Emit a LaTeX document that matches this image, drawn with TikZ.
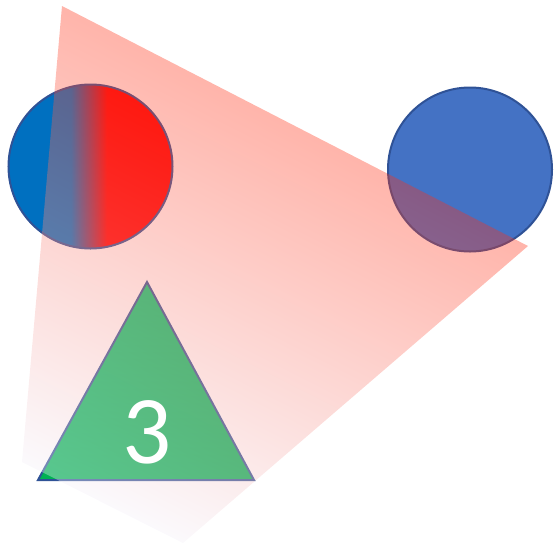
\documentclass[tikz,border=0pt]{standalone}
\usepackage{fontspec}
\newfontfamily\digitfont{Carlito}
\definecolor{blueA}{RGB}{0,112,192}
\definecolor{redA}{RGB}{255,0,0}
\definecolor{circB}{RGB}{68,114,196}
\definecolor{shapeline}{RGB}{47,82,150}
\definecolor{triTop}{RGB}{0,203,115}
\definecolor{triBot}{RGB}{0,176,82}
\definecolor{polyTop}{RGB}{255,47,19}
\definecolor{polyBot}{RGB}{243,243,252}
\pgfdeclarehorizontalshading{bluered}{100bp}{color(0bp)=(blueA); color(44bp)=(blueA); color(55bp)=(redA); color(100bp)=(redA)}
\tikzset{
  outline/.style={line width=2pt, draw=shapeline},
  overlay poly/.style={top color=polyTop, bottom color=polyBot, opacity=0.36},
}
\begin{document}
\begin{tikzpicture}[x=1pt,y=-1pt]
\useasboundingbox (0,0) rectangle (554,547);
% left circle
\node[circle, minimum size=164pt, inner sep=0pt, shading=bluered, outline] (lc) at (90.5,166.5) {};
% right circle
\node[circle, minimum size=164pt, inner sep=0pt, fill=circB, outline] (rc) at (470,169.5) {};
% triangle
\coordinate (ta) at (147,282);
\coordinate (tl) at (38,480);
\coordinate (tr) at (254,480);
\shadedraw[top color=triTop, bottom color=triBot, outline, line join=miter] (ta) -- (tr) -- (tl) -- cycle;
% translucent polygon
\coordinate (p1) at (62,6);
\coordinate (p2) at (528,246);
\coordinate (p3) at (183,543);
\coordinate (p4) at (22,462);
\begin{scope}
  \clip (p1) -- (p2) -- (p3) -- (p4) -- cycle;
  \begin{scope}[transform canvas={rotate=-27}]
    \shade[overlay poly] (30pt,-410pt) rectangle (600pt,26pt);
  \end{scope}
\end{scope}
\node[anchor=base, text=white, inner sep=0pt, font=\digitfont\fontsize{97}{97}\selectfont] (three) at (147,463) {3};
\end{tikzpicture}
\end{document}
